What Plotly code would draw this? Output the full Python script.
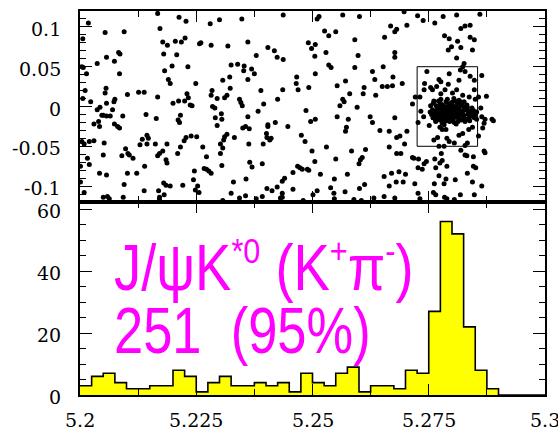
import plotly.graph_objects as go

# ---------------------------------------------------------------------------
# B0 -> J/psi K*0 candidates: beam-constrained mass (MeV) vs Delta E (MeV)
# ---------------------------------------------------------------------------
mbc_left = [5201.8, 5200.6, 5205.4, 5209.5, 5216.7, 5221.3, 5222.8, 5217.2, 5217.8, 5218.8,
            5220.5, 5221.8, 5222.6, 5225.7, 5208.3, 5208.6, 5205.7, 5207.4, 5218.0, 5220.8,
            5203.7, 5200.4, 5200.7, 5201.4, 5208.5, 5218.2, 5219.8, 5223.2, 5219.0, 5219.4,
            5224.9, 5201.1, 5205.6, 5205.4, 5210.2, 5212.6, 5213.8, 5216.7, 5223.0, 5223.3,
            5200.6, 5202.3, 5207.5, 5207.3, 5205.7, 5204.3, 5203.7, 5207.0, 5220.0, 5221.2,
            5222.5, 5223.7, 5224.1, 5204.7, 5205.0, 5205.7, 5206.5, 5214.2, 5216.4, 5221.6,
            5221.1, 5221.4, 5209.2, 5204.0, 5203.0, 5204.2, 5207.4, 5208.1, 5208.5, 5200.4,
            5200.9, 5202.0, 5203.0, 5205.2, 5214.4, 5214.7, 5213.4, 5212.9, 5214.4, 5216.2,
            5218.7, 5221.6, 5222.4, 5222.8, 5223.9, 5225.1, 5209.8, 5210.3, 5210.6, 5211.4,
            5209.0, 5205.0, 5200.1, 5201.6, 5202.0, 5216.7, 5217.1, 5217.8, 5218.5, 5218.7,
            5221.0, 5213.9, 5204.2, 5205.7, 5210.2, 5212.2, 5224.6, 5224.4, 5200.1, 5200.9,
            5209.5, 5218.0, 5218.5, 5219.4, 5222.1, 5225.3, 5224.8, 5205.0, 5205.9, 5206.3,
            5209.3, 5213.8, 5216.9, 5217.1, 5217.1, 5218.1, 5225.6]
de_left = [105, 85, 93, 94, 117, 112, 107, 98, 81, 77,
           82, 81, 86, 79, 68, 66, 62, 57, 66, 65,
           54, 50, 49, 41, 41, 45, 51, 50, 34, 29,
           29, 20, 23, 17, 15, 18, 18, 12, 16, 11,
           10, 6, 9, 6, 4, -1, -4, -4, 4, 7,
           7, 2, 1, -11, -11, -12, -12, -10, -15, -11,
           -17, -20, -12, -19, -22, -25, -22, -25, -27, -44,
           -47, -44, -43, -46, -36, -40, -41, -48, -47, -47,
           -47, -51, -43, -39, -37, -38, -53, -59, -61, -65,
           -62, -61, -75, -65, -73, -62, -59, -56, -67, -71,
           -59, -75, -84, -86, -84, -84, -81, -92, -95, -108,
           -98, -96, -99, -100, -99, -100, -105, -114, -113, -116,
           -114, -106, -106, -114, -117, -111, -108]

mbc_mid = [5228.0, 5230.0, 5234.8, 5243.7, 5251.0, 5251.4, 5252.6, 5253.5, 5255.0, 5226.0,
           5228.2, 5231.8, 5236.1, 5240.4, 5241.8, 5242.4, 5243.7, 5249.1, 5249.8, 5250.6,
           5250.5, 5252.9, 5237.9, 5232.5, 5233.9, 5235.3, 5235.2, 5236.9, 5237.5, 5236.1,
           5230.7, 5232.2, 5253.5, 5254.0, 5250.6, 5246.6, 5246.5, 5246.9, 5249.2, 5255.3,
           5228.4, 5228.2, 5229.5, 5231.1, 5231.6, 5232.3, 5238.9, 5243.6, 5242.5, 5234.3,
           5234.6, 5234.9, 5239.5, 5238.3, 5228.5, 5229.0, 5236.1, 5229.1, 5230.4, 5230.5,
           5229.5, 5240.4, 5240.4, 5242.0, 5244.7, 5248.6, 5250.6, 5249.6, 5255.3, 5255.9,
           5235.0, 5235.6, 5236.4, 5231.6, 5231.1, 5230.9, 5230.2, 5230.7, 5230.2, 5233.2,
           5226.4, 5227.2, 5236.3, 5239.4, 5240.1, 5240.2, 5240.8, 5241.1, 5247.6, 5248.4,
           5249.9, 5253.0, 5255.0, 5250.5, 5230.5, 5236.5, 5237.0, 5239.2, 5226.7, 5227.2,
           5227.7, 5228.2, 5233.0, 5235.7, 5245.8, 5246.8, 5247.3, 5247.8, 5248.9, 5249.2,
           5251.7, 5243.5, 5244.0, 5240.2, 5241.3, 5242.4, 5243.5, 5243.1, 5243.5, 5245.8,
           5232.5, 5234.3, 5235.6, 5237.9, 5239.2, 5230.7, 5248.0, 5250.1, 5251.0, 5253.9,
           5254.6, 5254.7, 5254.7]
de_mid = [104, 109, 110, 115, 110, 113, 95, 89, 94, 80,
          77, 76, 81, 74, 70, 62, 59, 80, 73, 78,
          63, 68, 64, 52, 53, 51, 45, 47, 41, 34,
          33, 37, 52, 49, 41, 37, 29, 21, 24, 26,
          20, 14, 10, 11, 14, 23, 20, 21, 9, 9,
          5, 1, 3, -6, 0, -2, -13, -14, -9, -16,
          -24, -23, -25, -20, -25, -5, -16, -19, -13, 1,
          -27, -25, -28, -35, -38, -42, -47, -52, -59, -39,
          -51, -63, -47, -47, -34, -39, -42, -40, -36, -44,
          -56, -51, -66, -69, -74, -70, -76, -72, -78, -79,
          -81, -84, -95, -91, -83, -75, -77, -79, -79, -80,
          -85, -94, -90, -103, -106, -101, -109, -115, -114, -104,
          -109, -115, -112, -116, -113, -118, -118, -111, -106, -102,
          -109, -116, -91]

mbc_right = [5256.5, 5260.1, 5269.7, 5272.6, 5273.8, 5276.3, 5278.1, 5281.0, 5286.0, 5266.8,
             5268.1, 5267.7, 5270.3, 5265.5, 5259.1, 5259.8, 5267.7, 5267.7, 5278.4, 5279.4,
             5281.2, 5281.9, 5282.8, 5283.9, 5283.9, 5284.8, 5279.2, 5279.9, 5281.9, 5284.4,
             5281.0, 5259.1, 5262.9, 5265.2, 5263.4, 5267.3, 5269.3, 5257.1,
             5261.1, 5260.9, 5258.0, 5256.5, 5256.8,
             5259.6, 5263.6, 5265.0, 5266.1, 5267.2, 5257.7, 5257.3, 5257.1, 5262.4, 5262.9,
             5264.5, 5267.7, 5266.5, 5270.3, 5268.1, 5268.8, 5269.8, 5266.5, 5268.1, 5269.0, 5258.4,
             5261.4, 5260.7, 5260.3, 5260.0, 5257.5,
             5261.2, 5260.1, 5257.0, 5265.4, 5267.0, 5268.6, 5270.0, 5268.0, 5269.5, 5266.5,
             5265.4, 5267.7, 5271.5, 5271.8, 5272.8, 5272.7, 5273.6, 5274.5, 5274.0, 5272.0,
             5272.7, 5273.1, 5258.9, 5260.5, 5263.2, 5276.3, 5276.5, 5277.4, 5277.9, 5278.9,
             5277.2, 5278.7, 5276.2, 5276.0, 5276.5, 5278.3, 5278.4, 5278.9, 5280.5, 5280.7,
             5281.8, 5283.3, 5282.8, 5283.2, 5284.6, 5284.6, 5285.1, 5284.4, 5284.8, 5286.4,
             5286.9, 5287.1, 5281.9, 5282.8, 5283.3, 5285.7, 5286.6, 5286.9, 5288.6, 5288.9,
             5271.5, 5272.1, 5273.1, 5274.6, 5277.2, 5277.6, 5276.7, 5279.4, 5279.2, 5281.8,
             5282.3, 5282.6, 5282.8, 5281.5, 5283.9, 5284.8, 5286.4, 5284.8, 5285.7, 5285.0,
             5286.2, 5286.4, 5285.3, 5273.3, 5273.9, 5272.7, 5275.1, 5276.1, 5276.9, 5277.4,
             5277.9, 5278.7, 5278.9, 5279.4, 5280.5, 5281.5, 5282.3, 5283.6, 5284.4, 5277.2,
             5278.3, 5277.7, 5274.1, 5274.0, 5275.4, 5275.8, 5278.5, 5280.1, 5281.0, 5282.3,
             5283.7, 5277.6, 5287.4, 5287.1]
de_right = [115, 113, 119, 114, 108, 105, 113, 115, 116, 101,
            97, 94, 102, 87, 84, 64, 68, 62, 89, 85,
            82, 98, 101, 102, 87, 84, 71, 75, 74, 71,
            61, 49, 44, 50, 34, 37, 29, 32,
            24, 16, 16, 9, 6,
            -1, 14, 25, 25, 26, -16, -26, -31, -13, -20,
            -30, -14, -31, -31, -39, -37, -47, -51, -59, -59, -56,
            -54, -64, -67, -72, -85,
            -98, -103, -107, -88, -84, -82, -85, -95, -95, -100,
            -113, -115, -64, -65, -66, -77, -79, -69, -72, -97,
            -109, -116, -117, -118, -115, -66, -77, -71, -68, -75,
            -87, -91, -97, -108, -111, -97, -114, -116, -117, -92,
            -111, -84, -61, -62, -63, -75, -77, -95, -111, -100,
            -56, -58, -55, -49, -46, -37, -27, -21, -16, -18,
            3, 12, 12, 44, 34, 31, 25, 41, 28, 46,
            50, 54, 44, 33, 38, 33, 39, 21, 12, 9,
            -2, -13, -16, -6, -13, -20, -24, -42, -39, -26,
            -29, -29, -40, -44, -46, -36, -34, -29, -26, -50,
            -50, -59, 29, 21, 24, 21, 21, 17, 21, 14,
            12, 16, 13, -16]

# dense signal peak around the B0 mass
mbc_core = [5279.6, 5280.2, 5278.9, 5281.0, 5279.1, 5280.7, 5278.3, 5281.5, 5279.8, 5277.6,
            5282.2, 5280.4, 5278.6, 5276.9, 5281.9, 5279.3, 5283.0, 5277.9, 5280.9, 5282.6,
            5276.3, 5278.1, 5279.9, 5281.4, 5283.4, 5277.2, 5280.1, 5275.8, 5282.9, 5284.0,
            5276.6, 5278.7, 5281.2, 5283.7, 5275.6, 5279.4, 5282.0, 5277.4, 5284.3, 5280.6,
            5276.0, 5278.4, 5279.0, 5280.0, 5281.7, 5277.0, 5282.4, 5283.2, 5278.0, 5279.7,
            5280.3, 5281.1, 5277.7, 5278.5, 5282.7, 5276.7, 5279.2, 5280.8, 5283.9, 5284.6,
            5275.9, 5277.5, 5281.6, 5282.1, 5279.5, 5278.2, 5280.5, 5276.4, 5283.0, 5284.4,
            5275.4, 5277.1, 5281.8, 5280.0, 5278.8, 5282.5, 5283.6, 5276.2, 5279.9, 5281.3,
            5277.8, 5280.6, 5278.6, 5281.0, 5279.4, 5282.3, 5277.3, 5283.3, 5280.2, 5278.9,
            5276.8, 5284.1, 5285.0, 5284.8, 5285.3, 5275.3, 5276.5, 5277.9, 5282.8, 5283.8,
            5279.0, 5281.5, 5277.6, 5280.4, 5282.6, 5278.3, 5280.9, 5276.1]
de_core = [-3, -5, -1, -6, -8, 0, -4, -3, -11, -6,
           -8, -14, -12, -2, 1, 3, -4, 2, -10, -12,
           -8, -16, 5, -15, -9, -12, -18, -4, 0, -7,
           1, 6, 4, -14, -10, -15, -17, -17, -2, 7,
           4, -9, -6, -8, -11, -9, -5, 2, -13, 1,
           -2, -1, -3, 0, -2, -5, -10, -13, -11, -5,
           -14, 4, -7, 3, -19, -20, -20, -16, -16, -12,
           1, 7, 6, 3, -18, -14, -6, -12, -16, -19,
           -8, -4, -6, -9, -1, -10, 0, -1, -11, -14,
           -14, -9, -10, -14, -7, -7, -19, -21, -19, -18,
           9, 8, 9, 10, 6, -23, -22, 7]

# signal box (GeV): Mbc low, Mbc high, dE low, dE high
signal_box = [5.2725, 5.2855, -0.05, 0.05]

# Mbc projection for |dE| < 50 MeV, 2.5 MeV bins from 5.2 GeV
hist_start = 5.2
hist_width = 0.0025
hist_counts = [3, 6, 7, 4, 2, 2, 3, 3, 8, 6,
               1, 4, 6, 3, 3, 4, 3, 4, 1, 7,
               4, 3, 7, 9, 1, 3, 3, 2, 8, 7,
               27, 56, 52, 22, 8, 2, 0, 0, 0, 0]

# axis ticks
x_tick_vals = [5.2, 5.225, 5.25, 5.275, 5.3]
x_tick_text = ["5.2", "5.225", "5.25", "5.275", "5.3"]
de_tick_vals = [-0.1, -0.05, 0, 0.05, 0.1]
de_tick_text = ["-0.1", "-0.05", "0", "0.05", "0.1"]
n_tick_vals = [0, 20, 40, 60]
n_tick_text = ["0", "20", "40", "60"]

small = '<span style="font-size:36px">{}</span>'
label_line1 = ("J/\u03c8K<sup>" + small.format("*0") + "</sup> (K<sup>" + small.format("+")
               + "</sup>\u03c0<sup>" + small.format("-") + "</sup>)")
label_line2 = "251  (95%)"

# ---------------------------------------------------------------------------
mbc_all = [v / 1000 for v in mbc_left + mbc_mid + mbc_right + mbc_core]
de_all = [v / 1000 for v in de_left + de_mid + de_right + de_core]

edges = [hist_start + i * hist_width for i in range(len(hist_counts) + 1)]
step_y = hist_counts + [hist_counts[-1]]

fig = go.Figure()
fig.add_trace(go.Scatter(
    x=edges, y=step_y, mode="lines",
    line=dict(shape="hv", color="black", width=1.6),
    fill="tozeroy", fillcolor="#ffff00",
    xaxis="x", yaxis="y", hoverinfo="skip", showlegend=False))
fig.add_trace(go.Scatter(
    x=mbc_all, y=de_all, mode="markers",
    marker=dict(size=5, color="black"),
    xaxis="x2", yaxis="y2", showlegend=False))


def axis(**kw):
    base = dict(showline=True, linecolor="black", linewidth=2, mirror="allticks",
                ticks="inside", tickcolor="black", tickwidth=1.4, showticklabels=False,
                showgrid=False, zeroline=False, automargin=False, layer="above traces")
    base.update(kw)
    return base


def minor(tick0, dtick):
    return dict(tickmode="linear", tick0=tick0, dtick=dtick, ticklen=6,
                ticks="inside", tickcolor="black", tickwidth=1.4)


split = 0.5026
fig.update_layout(
    width=558, height=431,
    margin=dict(l=80, r=13, t=11, b=36, autoexpand=False),
    paper_bgcolor="white", plot_bgcolor="white",
    xaxis=axis(domain=[0, 1], anchor="y", range=[5.2, 5.3],
               tickmode="array", tickvals=x_tick_vals, ticklen=11, minor=minor(5.2, 0.0125)),
    yaxis=axis(domain=[0, split], anchor="x", range=[0, 62.3],
               tickmode="array", tickvals=n_tick_vals, ticklen=12, minor=minor(0, 5)),
    xaxis2=axis(domain=[0, 1], anchor="y2", range=[5.2, 5.3], matches="x",
                tickmode="array", tickvals=x_tick_vals, ticklen=11, minor=minor(5.2, 0.0125)),
    yaxis2=axis(domain=[split, 1], anchor="x2", range=[-0.12, 0.12],
                tickmode="array", tickvals=de_tick_vals, ticklen=12, minor=minor(0, 0.01)),
    shapes=[dict(type="rect", xref="x2", yref="y2",
                 x0=signal_box[0], x1=signal_box[1], y0=signal_box[2], y1=signal_box[3],
                 line=dict(color="black", width=1))],
)

# magenta channel label (first two annotations)
label_font = dict(family="Liberation Sans, Arial, sans-serif", size=64, color="#ff00ff")
fig.add_annotation(x=0.069, xref="paper", y=41.3, yref="y", text=label_line1,
                   xanchor="left", yanchor="middle", showarrow=False, font=label_font)
fig.add_annotation(x=0.069, xref="paper", y=20.5, yref="y", text=label_line2,
                   xanchor="left", yanchor="middle", showarrow=False, font=label_font)

# serif tick labels
tick_font = dict(family="DejaVu Serif", size=19, color="black")
for v, t in zip(x_tick_vals, x_tick_text):
    fig.add_annotation(x=v, xref="x", y=-0.066, yref="paper", text=t, showarrow=False,
                       xanchor="center", yanchor="middle", borderpad=0, font=tick_font)
for v, t in zip(n_tick_vals, n_tick_text):
    fig.add_annotation(x=-0.036, xref="paper", y=v, yref="y", text=t, showarrow=False,
                       xanchor="right", yanchor="middle", yshift=-2, font=tick_font)
for v, t in zip(de_tick_vals, de_tick_text):
    fig.add_annotation(x=-0.036, xref="paper", y=v, yref="y2", text=t, showarrow=False,
                       xanchor="right", yanchor="middle", yshift=-2, font=tick_font)

# the channel label is drawn slightly condensed
condense = """
var gd = document.getElementById('{plot_id}');
var labels = gd.querySelectorAll('.annotation-text');
[0.85, 0.82].forEach(function (s, i) {
  var t = labels[i];
  t.style.transformBox = 'fill-box';
  t.style.transformOrigin = 'left center';
  t.style.transform = 'scaleX(' + s + ')';
});
"""
fig.write_html("out.html", post_script=condense)
